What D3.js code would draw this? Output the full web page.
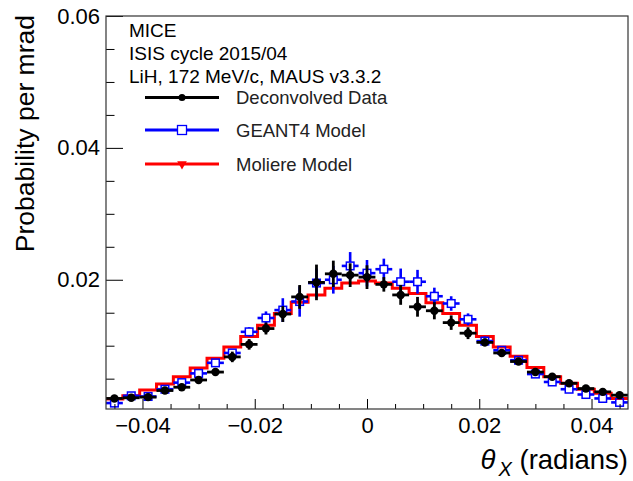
<!DOCTYPE html>
<html>
<head>
<meta charset="utf-8">
<script src="https://cdn.jsdelivr.net/npm/d3@7"></script>
<style>
  html, body { margin: 0; padding: 0; background: #fff; }
  svg { display: block; font-family: "Liberation Sans", Arial, Helvetica, sans-serif; }
</style>
</head>
<body>
<svg id="chart" width="633" height="481"></svg>
<script>
// Bin centres (radians), bin width 0.003
const binCentres = [-0.045, -0.042, -0.039, -0.036, -0.033, -0.030, -0.027, -0.024, -0.021, -0.018,
  -0.015, -0.012, -0.009, -0.006, -0.003, 0, 0.003, 0.006, 0.009, 0.012,
  0.015, 0.018, 0.021, 0.024, 0.027, 0.030, 0.033, 0.036, 0.039, 0.042, 0.045];
const BIN_W = 0.003;

// Deconvolved data
const dataValues = [0.0020, 0.0021, 0.0022, 0.0032, 0.0037, 0.0048, 0.0060, 0.0083, 0.0102, 0.0126,
  0.0148, 0.0174, 0.0196, 0.0209, 0.0207, 0.0204, 0.0193, 0.0177, 0.0159, 0.0153,
  0.0135, 0.0119, 0.0105, 0.0089, 0.0076, 0.0060, 0.0053, 0.0043, 0.0035, 0.0030, 0.0025];
const dataErrors = [0.0005, 0.0005, 0.0005, 0.0005, 0.0005, 0.0005, 0.0006, 0.0008, 0.0008, 0.0009,
  0.0012, 0.0018, 0.0027, 0.0020, 0.0018, 0.0018, 0.0011, 0.0015, 0.0015, 0.0013,
  0.0011, 0.0009, 0.0006, 0.0006, 0.0005, 0.0005, 0.0005, 0.0004, 0.0004, 0.0004, 0.0004];

// GEANT4 model
const geantValues = [0.0013, 0.0024, 0.0023, 0.0034, 0.0044, 0.0058, 0.0074, 0.0089, 0.0121, 0.0142,
  0.0154, 0.0167, 0.0195, 0.0200, 0.0221, 0.0210, 0.0216, 0.0197, 0.0197, 0.0175,
  0.0164, 0.0140, 0.0107, 0.0093, 0.0078, 0.0057, 0.0045, 0.0034, 0.0026, 0.0020, 0.0014];
const geantErrors = [0.0004, 0.0004, 0.0004, 0.0004, 0.0004, 0.0004, 0.0005, 0.0006, 0.0007, 0.0010,
  0.0018, 0.0023, 0.0022, 0.0021, 0.0021, 0.0020, 0.0016, 0.0020, 0.0018, 0.0013,
  0.0011, 0.0009, 0.0007, 0.0006, 0.0005, 0.0005, 0.0004, 0.0004, 0.0004, 0.0004, 0.0004];

// Moliere model (histogram)
const moliereValues = [0.0019, 0.0024, 0.0033, 0.0042, 0.0053, 0.0066, 0.0081, 0.0098, 0.0114, 0.0131,
  0.0149, 0.0166, 0.0177, 0.0187, 0.0195, 0.0198, 0.0195, 0.0187, 0.0179, 0.0165,
  0.0149, 0.0131, 0.0114, 0.0098, 0.0084, 0.0067, 0.0053, 0.0043, 0.0034, 0.0028, 0.0020];

const xMajorTicks = [-0.04, -0.02, 0, 0.02, 0.04];
const xMinorTicks = [-0.045, -0.035, -0.03, -0.025, -0.015, -0.01, -0.005, 0.005, 0.01, 0.015, 0.025, 0.03, 0.035, 0.045];
const yMajorTicks = [0.02, 0.04, 0.06];
const yMinorTicks = [0.005, 0.01, 0.015, 0.025, 0.03, 0.035, 0.045, 0.05, 0.055];

const headerLines = ['MICE', 'ISIS cycle 2015/04', 'LiH, 172 MeV/c, MAUS v3.3.2'];
const legendLabels = ['Deconvolved Data', 'GEANT4 Model', 'Moliere Model'];

// ─── Layout ───────────────────────────────────────────────────
const FRAME = { left: 106, right: 628, top: 16, bottom: 409 };

const x = d3.scaleLinear().domain([-0.0465, 0.0465]).range([FRAME.left, FRAME.right]);
const y = d3.scaleLinear().domain([0.0004, 0.06]).range([FRAME.bottom, FRAME.top]);

const svg = d3.select('#chart');
svg.append('rect').attr('width', 633).attr('height', 481).attr('fill', '#fff');

const plot = svg.append('g');

// ─── Moliere histogram (red step line) ─────────────────────────
const stepPts = binCentres.map((c, i) => [c - BIN_W / 2, moliereValues[i]]);
stepPts.push([binCentres[binCentres.length - 1] + BIN_W / 2, moliereValues[moliereValues.length - 1]]);

plot.append('path')
    .datum(stepPts)
    .attr('fill', 'none')
    .attr('stroke', '#ff0000')
    .attr('stroke-width', 3)
    .attr('d', d3.line().x(d => x(d[0])).y(d => y(d[1])).curve(d3.curveStepAfter));

// ─── GEANT4 points (blue open squares) ─────────────────────────
const SQ = 3.8;
const geant = plot.append('g').attr('stroke', '#0000ff').attr('stroke-width', 2.6);
binCentres.forEach((c, i) => {
    const cx = x(c), cy = y(geantValues[i]);
    const yt = y(geantValues[i] + geantErrors[i]), yb = y(geantValues[i] - geantErrors[i]);
    geant.append('line').attr('x1', x(c - BIN_W / 2)).attr('x2', cx - SQ).attr('y1', cy).attr('y2', cy);
    geant.append('line').attr('x1', cx + SQ).attr('x2', x(c + BIN_W / 2)).attr('y1', cy).attr('y2', cy);
    if (cy - yt > SQ) geant.append('line').attr('x1', cx).attr('x2', cx).attr('y1', yt).attr('y2', cy - SQ);
    if (yb - cy > SQ) geant.append('line').attr('x1', cx).attr('x2', cx).attr('y1', cy + SQ).attr('y2', yb);
    geant.append('rect')
        .attr('x', cx - SQ).attr('y', cy - SQ)
        .attr('width', SQ * 2).attr('height', SQ * 2)
        .attr('fill', 'none').attr('stroke-width', 1.5);
});

// ─── Deconvolved data (black) ──────────────────────────────────
const dat = plot.append('g').attr('stroke', '#000').attr('stroke-width', 2.8);
binCentres.forEach((c, i) => {
    const cx = x(c), cy = y(dataValues[i]);
    dat.append('line').attr('x1', x(c - BIN_W / 2)).attr('x2', x(c + BIN_W / 2)).attr('y1', cy).attr('y2', cy);
    dat.append('line').attr('x1', cx).attr('x2', cx)
        .attr('y1', y(dataValues[i] + dataErrors[i])).attr('y2', y(dataValues[i] - dataErrors[i]));
    dat.append('circle').attr('cx', cx).attr('cy', cy).attr('r', 4.2).attr('fill', '#000').attr('stroke', 'none');
});

// ─── Axes ─────────────────────────────────────────────────────
const fmt = d => d === 0 ? '0' : d3.format('.2f')(d);

svg.append('g').attr('transform', `translate(0,${FRAME.bottom})`)
    .call(d3.axisBottom(x).tickValues(xMajorTicks).tickFormat(fmt).tickSizeInner(-10).tickSizeOuter(0).tickPadding(8));
svg.append('g').attr('transform', `translate(0,${FRAME.bottom})`)
    .call(d3.axisBottom(x).tickValues(xMinorTicks).tickFormat('').tickSizeInner(-5).tickSizeOuter(0));

svg.append('g').attr('transform', `translate(${FRAME.left},0)`)
    .call(d3.axisLeft(y).tickValues(yMajorTicks).tickFormat(d3.format('.2f')).tickSizeInner(-17).tickSizeOuter(0).tickPadding(6));
svg.append('g').attr('transform', `translate(${FRAME.left},0)`)
    .call(d3.axisLeft(y).tickValues(yMinorTicks).tickFormat('').tickSizeInner(-8.5).tickSizeOuter(0));

svg.selectAll('.domain').remove();
svg.selectAll('.tick line').attr('stroke', '#000').attr('stroke-width', 1);
svg.selectAll('.tick text')
    .attr('font-family', '"Liberation Sans", Arial, sans-serif')
    .attr('font-size', 22).attr('fill', '#000');

// frame
svg.append('rect')
    .attr('x', FRAME.left).attr('y', FRAME.top)
    .attr('width', FRAME.right - FRAME.left).attr('height', FRAME.bottom - FRAME.top)
    .attr('fill', 'none').attr('stroke', '#333').attr('stroke-width', 1.2);

// ─── Titles ───────────────────────────────────────────────────
svg.append('text')
    .attr('transform', `translate(34,${FRAME.top - 1}) rotate(-90)`)
    .attr('text-anchor', 'end')
    .attr('font-size', 26.5)
    .text('Probability per mrad');

const xt = svg.append('text')
    .attr('x', FRAME.right).attr('y', 469)
    .attr('text-anchor', 'end')
    .attr('font-size', 27.5);
xt.append('tspan').attr('font-style', 'italic').text('θ');
xt.append('tspan').attr('font-style', 'italic').attr('font-size', 20).attr('dy', 7).attr('dx', 3).text('X');
xt.append('tspan').attr('dy', -7).text(' (radians)');

// ─── Header text ──────────────────────────────────────────────
svg.append('g').selectAll('text')
    .data(headerLines)
    .join('text')
    .attr('x', 129)
    .attr('y', (d, i) => 37 + i * 23)
    .attr('font-size', 19)
    .text(d => d);

// ─── Legend ───────────────────────────────────────────────────
const legY = [97.5, 130, 164];
const leg = svg.append('g');
const lx0 = 145, lx1 = 219, lmx = 182;

leg.append('line').attr('x1', lx0).attr('x2', lx1).attr('y1', legY[0]).attr('y2', legY[0]).attr('stroke', '#000').attr('stroke-width', 3);
leg.append('circle').attr('cx', lmx).attr('cy', legY[0]).attr('r', 3.5).attr('fill', '#000');

leg.append('line').attr('x1', lx0).attr('x2', lmx - 4.5).attr('y1', legY[1]).attr('y2', legY[1]).attr('stroke', '#0000ff').attr('stroke-width', 3);
leg.append('line').attr('x1', lmx + 4.5).attr('x2', lx1).attr('y1', legY[1]).attr('y2', legY[1]).attr('stroke', '#0000ff').attr('stroke-width', 3);
leg.append('rect').attr('x', lmx - 4.5).attr('y', legY[1] - 4.5).attr('width', 9).attr('height', 9)
    .attr('fill', 'none').attr('stroke', '#0000ff').attr('stroke-width', 1.3);

leg.append('line').attr('x1', lx0).attr('x2', lx1).attr('y1', legY[2]).attr('y2', legY[2]).attr('stroke', '#ff0000').attr('stroke-width', 3);
leg.append('path')
    .attr('d', d3.symbol(d3.symbolTriangle, 40)())
    .attr('transform', `translate(${lmx},${legY[2]}) rotate(180)`)
    .attr('fill', '#ff0000');

leg.selectAll('text.lab')
    .data(legendLabels)
    .join('text')
    .attr('class', 'lab')
    .attr('x', 236)
    .attr('y', (d, i) => legY[i] + 6.5)
    .attr('font-size', 18.5)
    .attr('fill', '#222')
    .text(d => d);
</script>
</body>
</html>
